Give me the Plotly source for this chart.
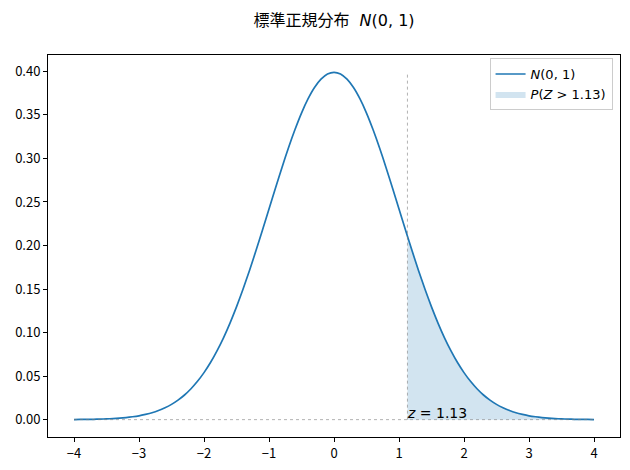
import plotly.graph_objects as go

# Values (standard normal density), step 0.1
x_vals = [-4.0, -3.9, -3.8, -3.7, -3.6, -3.5, -3.4, -3.3, -3.2, -3.1,
          -3.0, -2.9, -2.8, -2.7, -2.6, -2.5, -2.4, -2.3, -2.2, -2.1,
          -2.0, -1.9, -1.8, -1.7, -1.6, -1.5, -1.4, -1.3, -1.2, -1.1,
          -1.0, -0.9, -0.8, -0.7, -0.6, -0.5, -0.4, -0.3, -0.2, -0.1,
          0.0, 0.1, 0.2, 0.3, 0.4, 0.5, 0.6, 0.7, 0.8, 0.9,
          1.0, 1.1, 1.2, 1.3, 1.4, 1.5, 1.6, 1.7, 1.8, 1.9,
          2.0, 2.1, 2.2, 2.3, 2.4, 2.5, 2.6, 2.7, 2.8, 2.9,
          3.0, 3.1, 3.2, 3.3, 3.4, 3.5, 3.6, 3.7, 3.8, 3.9, 4.0]
y_vals = [0.0001, 0.0002, 0.0003, 0.0004, 0.0006, 0.0009, 0.0012, 0.0017, 0.0024, 0.0033,
          0.0044, 0.0060, 0.0079, 0.0104, 0.0136, 0.0175, 0.0224, 0.0283, 0.0355, 0.0440,
          0.0540, 0.0656, 0.0790, 0.0940, 0.1109, 0.1295, 0.1497, 0.1714, 0.1942, 0.2179,
          0.2420, 0.2661, 0.2897, 0.3123, 0.3332, 0.3521, 0.3683, 0.3814, 0.3910, 0.3970,
          0.3989, 0.3970, 0.3910, 0.3814, 0.3683, 0.3521, 0.3332, 0.3123, 0.2897, 0.2661,
          0.2420, 0.2179, 0.1942, 0.1714, 0.1497, 0.1295, 0.1109, 0.0940, 0.0790, 0.0656,
          0.0540, 0.0440, 0.0355, 0.0283, 0.0224, 0.0175, 0.0136, 0.0104, 0.0079, 0.0060,
          0.0044, 0.0033, 0.0024, 0.0017, 0.0012, 0.0009, 0.0006, 0.0004, 0.0003, 0.0002, 0.0001]

z_crit = 1.13
y_crit = 0.2107
peak = 0.3989

tail_x = [z_crit] + [v for v in x_vals if v > z_crit]
tail_y = [y_crit] + [y for v, y in zip(x_vals, y_vals) if v > z_crit]

x_ticks = [-4, -3, -2, -1, 0, 1, 2, 3, 4]
y_ticks = [0.00, 0.05, 0.10, 0.15, 0.20, 0.25, 0.30, 0.35, 0.40]

BLUE = "#1f77b4"
TICK_FONT = "Noto Sans CJK JP, DejaVu Sans, sans-serif"

fig = go.Figure()

fig.add_trace(go.Scatter(
    x=tail_x, y=tail_y, mode="lines", fill="tozeroy",
    line=dict(width=0, shape="spline", smoothing=0.6, color="rgba(31,119,180,0)"),
    fillcolor="rgba(31,119,180,0.2)",
    name="<i>P</i>(<i>Z</i> > 1.13)", legendrank=2,
))

fig.add_trace(go.Scatter(
    x=x_vals, y=y_vals, mode="lines",
    line=dict(color=BLUE, width=1.7, shape="spline", smoothing=0.6),
    name="<i>N</i>(0, 1)", legendrank=1,
))

# y = 0 dotted baseline
fig.add_trace(go.Scatter(
    x=[x_vals[0], x_vals[-1]], y=[0, 0], mode="lines",
    line=dict(color="gray", width=0.6, dash="dot"),
    showlegend=False, hoverinfo="skip",
))
# vertical dotted line at z
fig.add_trace(go.Scatter(
    x=[z_crit, z_crit], y=[0, peak], mode="lines",
    line=dict(color="gray", width=0.6, dash="dot"),
    showlegend=False, hoverinfo="skip",
))

fig.add_annotation(
    x=z_crit, y=0, xref="x", yref="y", text="<i>z</i> = 1.13",
    showarrow=False, xanchor="left", yanchor="bottom", xshift=-2, yshift=-3,
    font=dict(family="DejaVu Sans", size=14, color="black"),
)

fig.update_layout(
    width=630, height=470,
    margin=dict(l=48, r=10, t=55, b=33),
    paper_bgcolor="white", plot_bgcolor="white",
    title=dict(
        text="標準正規分布  <i>N</i>(0, 1)",
        xref="paper", x=0.5, xanchor="center", y=0.957, yanchor="middle",
        font=dict(family="DejaVu Sans, Noto Sans CJK JP", size=16, color="black"),
    ),
    legend=dict(
        x=0.987, y=0.992, xanchor="right", yanchor="top",
        bgcolor="rgba(255,255,255,0.8)", bordercolor="#cccccc", borderwidth=1,
        font=dict(family="DejaVu Sans", size=13, color="black"),
        tracegroupgap=2,
    ),
    showlegend=True,
)

fig.update_xaxes(
    range=[-4.4, 4.4], tickvals=x_ticks,
    ticktext=[("−" + str(-t)) if t < 0 else str(t) for t in x_ticks],
    showgrid=False, zeroline=False, showline=True, linecolor="black", linewidth=1,
    mirror=True, ticks="outside", ticklen=4, tickcolor="black", automargin=False,
    tickfont=dict(family=TICK_FONT, size=13, color="black"),
)
fig.update_yaxes(
    range=[-0.01995, 0.4188], tickvals=y_ticks, ticktext=[f"{t:.2f}" for t in y_ticks],
    showgrid=False, zeroline=False, showline=True, linecolor="black", linewidth=1,
    mirror=True, ticks="outside", ticklen=4, tickcolor="black", automargin=False,
    tickfont=dict(family=TICK_FONT, size=13, color="black"),
)

fig.write_html("out.html", config={"displayModeBar": False},
               post_script="document.body.style.margin='0';")
